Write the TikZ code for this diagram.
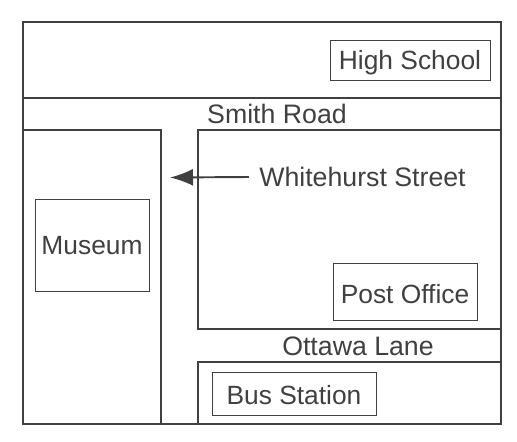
\documentclass[tikz,border=0pt]{standalone}
\usepackage{fontspec}
\setmainfont{Liberation Sans}
\usetikzlibrary{arrows.meta}
\definecolor{inkgray}{gray}{0.25}
\tikzset{
	roadline/.style={draw=inkgray, line width=0.8pt},
	placebox/.style={draw=inkgray, line width=0.45pt, text=inkgray, font=\fontsize{15}{17}\selectfont, inner sep=0pt, text depth=0pt},
	roadname/.style={text=inkgray, font=\fontsize{15.2}{17}\selectfont, inner sep=0pt}
}
\begin{document}
\begin{tikzpicture}[scale=0.2]
	\useasboundingbox (0,0) rectangle (51.7,-44.2);
	\draw [roadline] (2.3,-2.2) rectangle (50.1,-42.4);
	\draw [roadline] (2.3,-9.8) -- (50.1,-9.8);
	\draw [roadline] (2.3,-13) -- (16.1,-13) -- (16.1,-42.4);
	\draw [roadline] (50.1,-13) -- (19.8,-13) -- (19.8,-32.9) -- (50.1,-32.9);
	\draw [roadline] (50.1,-36.2) -- (19.8,-36.2) -- (19.8,-42.4);
	\node [placebox, text height=11pt, minimum width=3.2cm, minimum height=0.8cm] (highschool) at (41,-6) {High School};
	\node [placebox, text height=11.2pt, minimum width=2.28cm, minimum height=1.84cm] (museum) at (9.2,-24.5) {Museum};
	\node [placebox, text height=14pt, minimum width=2.88cm, minimum height=1.14cm] (postoffice) at (40.5,-29.15) {Post Office};
	\node [placebox, text height=12.2pt, minimum width=3.28cm, minimum height=0.86cm] (busstation) at (29.4,-39.35) {Bus Station};
	\node [roadname] (smithroad) at (27.7,-11.35) {Smith Road};
	\node [roadname] (ottawalane) at (35.8,-34.6) {Ottawa Lane};
	\node [roadname] (whitehurst) at (36.25,-17.7) {Whitehurst Street};
	\coordinate (arrowend) at (17,-17.75);
	\draw [draw=inkgray, line width=1.1pt, -{Latex[length=0.46cm, width=0.34cm]}] ([xshift=-1cm]whitehurst.west) -- (arrowend);
\end{tikzpicture}
\end{document}
